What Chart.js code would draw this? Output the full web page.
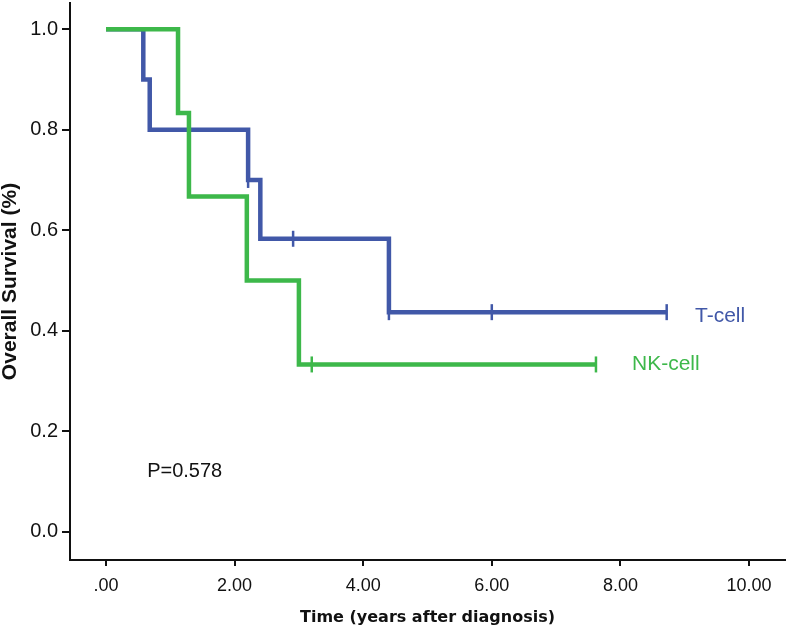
<!DOCTYPE html>
<html>
<head>
<meta charset="utf-8">
<script src="https://cdn.jsdelivr.net/npm/chart.js@4/dist/chart.umd.min.js"></script>
<style>
  html, body { margin: 0; padding: 0; background: #fff; }
  #wrap { width: 787px; height: 631px; }
</style>
</head>
<body>
<div id="wrap"><canvas id="kmChart" width="787" height="631"></canvas></div>
<script>
// Kaplan-Meier data
var tTimes = [0, 0.58, 0.68, 2.21, 2.40, 4.40, 8.72];
var tSurv = [1.0, 0.9, 0.8, 0.7, 0.583, 0.437, 0.437];
var tCensorTimes = [2.21, 2.91, 4.40, 6.00, 8.72];
var tCensorSurv = [0.7, 0.583, 0.437, 0.437, 0.437];

var nkTimes = [0, 1.12, 1.29, 2.19, 3.00, 7.62];
var nkSurv = [1.0, 0.833, 0.667, 0.5, 0.333, 0.333];
var nkCensorTimes = [3.20, 7.62];
var nkCensorSurv = [0.333, 0.333];

var xTicks = [0, 2, 4, 6, 8, 10];
var yTicks = [0, 0.2, 0.4, 0.6, 0.8, 1.0];

var blue = '#4158a8';
var green = '#3db84a';

function toPoints(xs, ys) {
    return xs.map(function(x, i) { return { x: x, y: ys[i] }; });
}

// Remove the extra room Chart.js keeps for the edge tick labels
function noEdgePadding(scale) {
    scale.paddingTop = 0;
    scale.paddingBottom = 0;
    scale.paddingLeft = 0;
    scale.paddingRight = 0;
}

// Draw the curve labels and the p-value as text
var annotations = {
    id: 'annotations',
    afterDraw: function(chart) {
        var ctx = chart.ctx;
        var x = chart.scales.x, y = chart.scales.y;
        ctx.save();
        ctx.textBaseline = 'middle';
        ctx.font = '21px "Liberation Sans", Arial, sans-serif';
        ctx.fillStyle = blue;
        ctx.fillText('T-cell', x.getPixelForValue(9.16), y.getPixelForValue(0.428));
        ctx.fillStyle = green;
        ctx.fillText('NK-cell', x.getPixelForValue(8.18), y.getPixelForValue(0.333));
        ctx.fillStyle = '#111';
        ctx.font = '20px "Liberation Sans", Arial, sans-serif';
        ctx.fillText('P=0.578', x.getPixelForValue(0.64), y.getPixelForValue(0.12));
        ctx.restore();
    }
};

var ctx = document.getElementById('kmChart').getContext('2d');
var myChart = new Chart(ctx, {
    type: 'scatter',
    data: {
        datasets: [{
            label: 'T-cell',
            data: toPoints(tTimes, tSurv),
            showLine: true,
            stepped: true,
            borderColor: blue,
            borderWidth: 4.5,
            pointRadius: 0,
            order: 2
        }, {
            label: 'NK-cell',
            data: toPoints(nkTimes, nkSurv),
            showLine: true,
            stepped: true,
            borderColor: green,
            borderWidth: 4.5,
            pointRadius: 0,
            order: 1
        }, {
            label: 'T-cell censored',
            data: toPoints(tCensorTimes, tCensorSurv),
            pointStyle: 'line',
            rotation: 90,
            pointRadius: 8,
            borderColor: blue,
            borderWidth: 2.5,
            order: 0
        }, {
            label: 'NK-cell censored',
            data: toPoints(nkCensorTimes, nkCensorSurv),
            pointStyle: 'line',
            rotation: 90,
            pointRadius: 8,
            borderColor: green,
            borderWidth: 2.5,
            order: 0
        }]
    },
    options: {
        responsive: false,
        animation: false,
        layout: { autoPadding: false, padding: { top: 3, right: 2, left: 0, bottom: 0 } },
        plugins: {
            legend: { display: false },
            tooltip: { enabled: false }
        },
        scales: {
            x: {
                type: 'linear',
                min: -0.56,
                max: 10.56,
                afterBuildTicks: function(scale) {
                    scale.ticks = xTicks.map(function(v) { return { value: v }; });
                },
                afterFit: function(scale) {
                    scale.height = 71;
                    noEdgePadding(scale);
                },
                border: { display: true, color: '#111', width: 2 },
                grid: { drawOnChartArea: false, drawTicks: true, tickLength: 6, color: '#111', lineWidth: 2 },
                ticks: {
                    color: '#111',
                    padding: 9,
                    maxRotation: 0,
                    font: { family: '"Liberation Sans", Arial, sans-serif', size: 18 },
                    callback: function(v) { return v === 0 ? '.00' : v.toFixed(2); }
                },
                title: {
                    display: true,
                    text: 'Time (years after diagnosis)',
                    color: '#111',
                    padding: { top: 6, bottom: 4 },
                    font: { family: '"DejaVu Sans", Verdana, sans-serif', size: 16, weight: 'bold' }
                }
            },
            y: {
                type: 'linear',
                min: -0.056,
                max: 1.052,
                afterBuildTicks: function(scale) {
                    scale.ticks = yTicks.map(function(v) { return { value: v }; });
                },
                afterFit: function(scale) {
                    scale.width = 70;
                    noEdgePadding(scale);
                },
                border: { display: true, color: '#111', width: 2 },
                grid: { drawOnChartArea: false, drawTicks: true, tickLength: 8, color: '#111', lineWidth: 2 },
                ticks: {
                    color: '#111',
                    padding: 4,
                    font: { family: '"Liberation Sans", Arial, sans-serif', size: 20 },
                    callback: function(v) { return v.toFixed(1); }
                },
                title: {
                    display: true,
                    text: 'Overall Survival (%)',
                    color: '#111',
                    padding: { top: 0, bottom: 0 },
                    font: { family: '"Liberation Sans", Arial, sans-serif', size: 21, weight: 'bold', lineHeight: 1 }
                }
            }
        }
    },
    plugins: [annotations]
});
</script>
</body>
</html>
